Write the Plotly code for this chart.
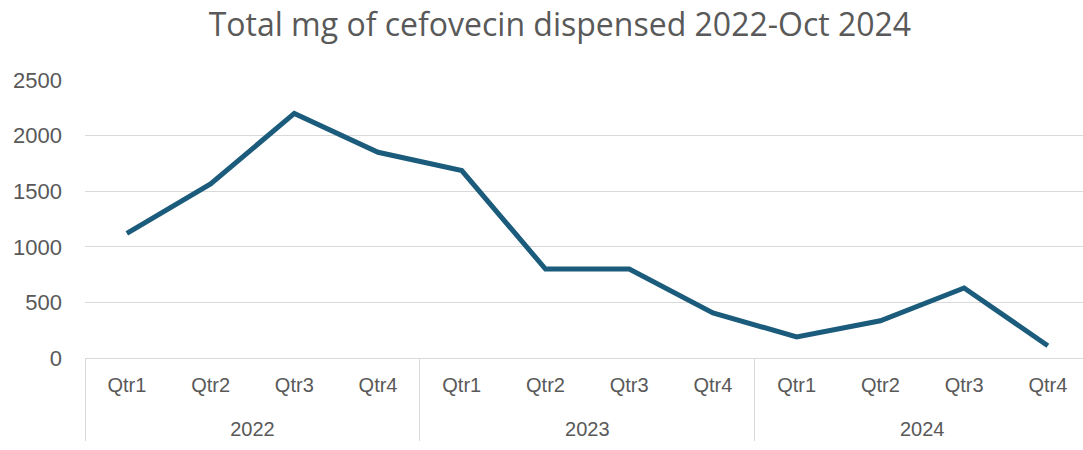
import plotly.graph_objects as go

years = ["2022"] * 4 + ["2023"] * 4 + ["2024"] * 4
quarters = ["Qtr1", "Qtr2", "Qtr3", "Qtr4"] * 3
mg_dispensed = [1120, 1565, 2200, 1850, 1685, 800, 800, 405, 190, 335, 630, 110]
y_ticks = [0, 500, 1000, 1500, 2000, 2500]

# extra blank line under quarter labels pushes the year row further down
quarter_labels = [q + "<br><span style='font-size:35px'> </span>" for q in quarters]

fig = go.Figure()
fig.add_trace(go.Scatter(
    x=[years, quarter_labels],
    y=mg_dispensed,
    mode="lines",
    line=dict(color="#1B5B7B", width=5),
    hoverinfo="y",
))

fig.update_layout(
    width=1083,
    height=450,
    margin=dict(l=85, r=0, t=80, b=92),
    paper_bgcolor="white",
    plot_bgcolor="white",
    showlegend=False,
    title=dict(
        text="Total mg of cefovecin dispensed 2022-Oct 2024",
        x=0.517, xanchor="center", y=0.945, yanchor="middle",
        font=dict(family="Open Sans", size=32, color="#595959"),
    ),
)

fig.update_xaxes(
    type="multicategory",
    range=[-0.5, 11.42],
    showline=True,
    linecolor="#d9d9d9",
    linewidth=1,
    showgrid=False,
    showdividers=True,
    dividercolor="#d9d9d9",
    dividerwidth=1,
    tickfont=dict(family="Liberation Sans", size=20, color="#595959"),
    ticks="",
    ticklabelstandoff=9,
)

fig.update_yaxes(
    range=[0, 2500],
    tickvals=y_ticks,
    showgrid=True,
    gridcolor="#d9d9d9",
    gridwidth=1,
    zeroline=False,
    showline=False,
    ticks="",
    ticklabelstandoff=22,
    tickfont=dict(family="Liberation Sans", size=22, color="#595959"),
)

fig.write_html("out.html")
